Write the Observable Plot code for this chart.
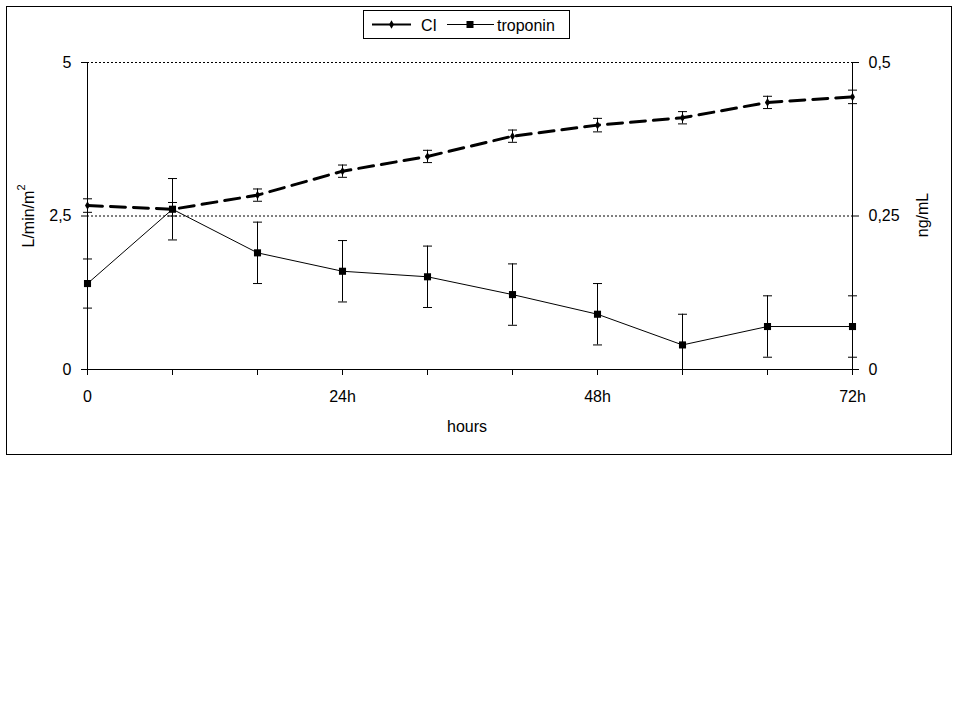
<!DOCTYPE html>
<html>
<head>
<meta charset="utf-8">
<script src="https://cdn.jsdelivr.net/npm/d3@7"></script>
<script src="https://cdn.jsdelivr.net/npm/@observablehq/plot@0.6"></script>
<style>
  body { margin: 0; background: white; font-family: "Liberation Sans", Arial, sans-serif; }
  #wrap { position: relative; width: 960px; height: 720px; }
  #frame { position: absolute; left: 6px; top: 6px; width: 946px; height: 449px; border: 1px solid black; box-sizing: border-box; }
  #chart { position: absolute; left: 0; top: 0; }
  #legend { position: absolute; left: 363px; top: 10px; width: 207px; height: 29px; border: 1px solid black; box-sizing: border-box; background: white; }
</style>
</head>
<body>
<div id="wrap">
  <div id="frame"></div>
  <div id="chart"></div>
  <div id="legend"></div>
</div>
<script>
// ---- data ----
const hours = [0, 8, 16, 24, 32, 40, 48, 56, 64, 72];
const ciValues = [2.67, 2.61, 2.84, 3.23, 3.47, 3.80, 3.98, 4.10, 4.35, 4.44];
const ciErrors = [0.11, 0.11, 0.10, 0.10, 0.10, 0.10, 0.11, 0.10, 0.10, 0.11];
const troponinValues = [0.14, 0.261, 0.19, 0.16, 0.151, 0.122, 0.09, 0.04, 0.07, 0.07];
const troponinErrors = [0.04, 0.05, 0.05, 0.05, 0.05, 0.05, 0.05, 0.05, 0.05, 0.05];
const xLabelValues = [0, 24, 48, 72];
const xLabelTexts = ["0", "24h", "48h", "72h"];
const leftTicks = [0, 2.5, 5];
const rightTicks = [0, 0.25, 0.5];
const gridValues = [2.5, 5];
const seriesNames = ["CI", "troponin"];

// right axis (ng/mL) mapped onto left axis (L/min/m2): 0.5 ng/mL <-> 5
const ratio = 10;
const comma = v => String(+v.toFixed(3)).replace(".", ",");

const rows = hours.map((h, i) => ({
  h,
  ci: ciValues[i], ciLo: ciValues[i] - ciErrors[i], ciHi: ciValues[i] + ciErrors[i],
  tn: troponinValues[i] * ratio,
  tnLo: Math.max(0, troponinValues[i] - troponinErrors[i]) * ratio,
  tnHi: (troponinValues[i] + troponinErrors[i]) * ratio
}));

const capSymbol = {
  draw(ctx, size) {
    const w = Math.sqrt(size / Math.PI);
    ctx.moveTo(-w, 0);
    ctx.lineTo(w, 0);
  }
};

const chart = Plot.plot({
  width: 960,
  height: 720,
  marginLeft: 87,
  marginRight: 108,
  marginTop: 62,
  marginBottom: 351,
  style: { fontFamily: "'Liberation Sans', Arial, sans-serif", fontSize: "16px", background: "transparent", color: "black", overflow: "visible" },
  x: { domain: [0, 72] },
  y: { domain: [0, 5] },
  marks: [
    Plot.ruleY(gridValues, { stroke: "black", strokeWidth: 1, strokeDasharray: "2,2" }),
    Plot.axisX({ ticks: hours, tickFormat: d => { const k = xLabelValues.indexOf(d); return k >= 0 ? xLabelTexts[k] : ""; }, tickSize: 6, tickPadding: 15, label: null, strokeOpacity: 1 }),
    Plot.axisY({ anchor: "left", ticks: leftTicks, tickFormat: comma, tickSize: 6, tickPadding: 10, label: null, strokeOpacity: 1 }),
    Plot.axisY({ anchor: "right", ticks: rightTicks.map(v => v * ratio), tickFormat: d => comma(d / ratio), tickSize: 6, tickPadding: 10, label: null, strokeOpacity: 1 }),
    Plot.ruleX([0, 72], { stroke: "black", strokeWidth: 1 }),
    Plot.ruleY([0], { stroke: "black", strokeWidth: 1 }),
    // error bars
    Plot.ruleX(rows, { x: "h", y1: "tnLo", y2: "tnHi", stroke: "black", strokeWidth: 1 }),
    Plot.dot(rows, { x: "h", y: "tnHi", symbol: capSymbol, r: 4.5, stroke: "black", strokeWidth: 1, fill: "none" }),
    Plot.dot(rows.filter(d => d.tnLo > 0), { x: "h", y: "tnLo", symbol: capSymbol, r: 4.5, stroke: "black", strokeWidth: 1, fill: "none" }),
    Plot.ruleX(rows, { x: "h", y1: "ciLo", y2: "ciHi", stroke: "black", strokeWidth: 1 }),
    Plot.dot(rows, { x: "h", y: "ciHi", symbol: capSymbol, r: 4.5, stroke: "black", strokeWidth: 1, fill: "none" }),
    Plot.dot(rows, { x: "h", y: "ciLo", symbol: capSymbol, r: 4.5, stroke: "black", strokeWidth: 1, fill: "none" }),
    // lines
    Plot.line(rows, { x: "h", y: "tn", stroke: "black", strokeWidth: 1 }),
    Plot.line(rows, { x: "h", y: "ci", stroke: "black", strokeWidth: 3, strokeDasharray: "15,8" }),
    // markers
    Plot.dot(rows, { x: "h", y: "tn", symbol: "square", r: 4, fill: "black", stroke: "none" }),
    Plot.dot(rows, { x: "h", y: "ci", symbol: "diamond", r: 2.6, fill: "black", stroke: "none" })
  ]
});

const svg = d3.select(chart);
const yl = svg.append("text")
  .attr("transform", "translate(34,216) rotate(-90)")
  .attr("text-anchor", "middle")
  .attr("font-size", 16);
yl.append("tspan").text("L/min/m");
yl.append("tspan").attr("font-size", 11).attr("dy", -9).text("2");
svg.append("text")
  .attr("transform", "translate(928,215) rotate(-90)")
  .attr("text-anchor", "middle")
  .attr("font-size", 16)
  .text("ng/mL");
svg.append("text")
  .attr("x", 467)
  .attr("y", 432)
  .attr("text-anchor", "middle")
  .attr("font-size", 16)
  .text("hours");

document.getElementById("chart").appendChild(chart);

// legend
const lg = d3.select("#legend").append("svg").attr("width", 205).attr("height", 27)
  .style("font-family", "'Liberation Sans', Arial, sans-serif").style("font-size", "16px");
lg.append("line").attr("x1", 8).attr("x2", 47).attr("y1", 13.5).attr("y2", 13.5).attr("stroke", "black").attr("stroke-width", 2);
lg.append("path").attr("d", d3.symbol(d3.symbolDiamond, 20)()).attr("transform", "translate(27.5,13.5)").attr("fill", "black");
lg.append("text").attr("x", 57).attr("y", 19.5).text(seriesNames[0]);
lg.append("line").attr("x1", 83).attr("x2", 130).attr("y1", 13.5).attr("y2", 13.5).attr("stroke", "black").attr("stroke-width", 1);
lg.append("rect").attr("x", 102.5).attr("y", 10).attr("width", 7).attr("height", 7).attr("fill", "black");
lg.append("text").attr("x", 133).attr("y", 19.5).text(seriesNames[1]);
</script>
</body>
</html>
